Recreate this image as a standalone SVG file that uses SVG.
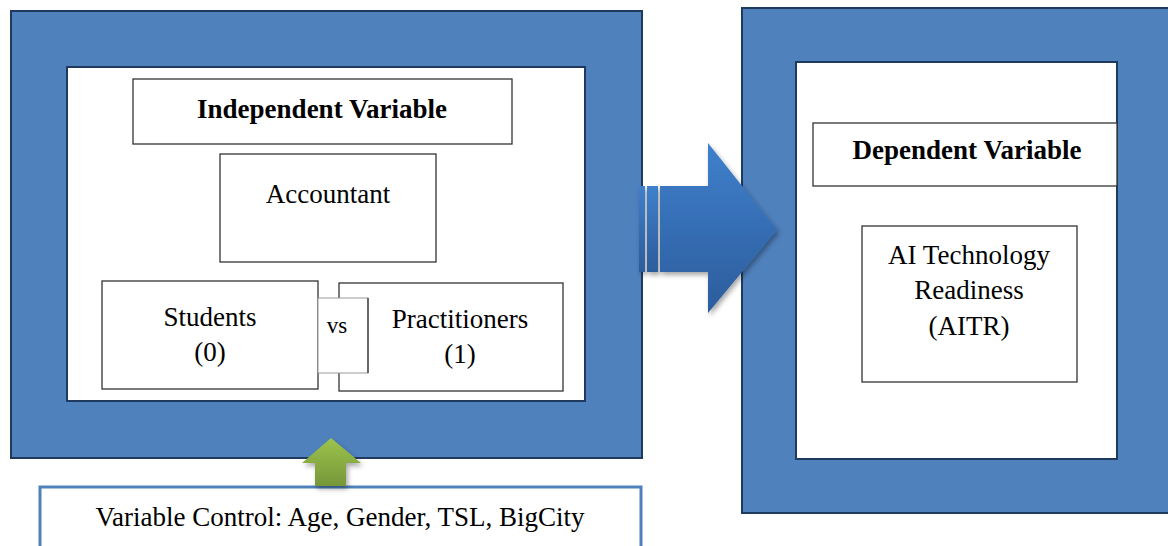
<svg xmlns="http://www.w3.org/2000/svg" width="1168" height="546" viewBox="0 0 1168 546">
<defs>
<linearGradient id="blueArrow" x1="0" y1="0" x2="0" y2="1">
<stop offset="0" stop-color="#3F80CC"/>
<stop offset="1" stop-color="#2C5C9C"/>
</linearGradient>
<linearGradient id="greenArrow" x1="0" y1="0" x2="0" y2="1">
<stop offset="0" stop-color="#9DC34B"/>
<stop offset="1" stop-color="#77973A"/>
</linearGradient>
<filter id="shadow" x="-20%" y="-20%" width="140%" height="140%">
<feDropShadow dx="2" dy="3" stdDeviation="2.5" flood-color="#000" flood-opacity="0.35"/>
</filter>
</defs>
<style>
.frame{fill:#4F81BD;stroke:#1F3A5F;stroke-width:2}
.inner{fill:#fff;stroke:#1F3A5F;stroke-width:2}
.box{fill:#fff;stroke:#333;stroke-width:1.3}
.t{font-family:"Liberation Serif","Times New Roman",serif;font-size:27px;fill:#000;text-anchor:middle}
.b{font-weight:bold}
</style>
<rect width="1168" height="546" fill="#fff"/>
<g id="left-frame">
<rect class="frame" x="11" y="11" width="631" height="447"/>
<rect class="inner" x="67" y="67" width="518" height="334"/>
</g>
<g id="right-frame">
<rect class="frame" x="742" y="8" width="430" height="505"/>
<rect class="inner" x="796" y="62" width="321" height="397"/>
</g>
<g id="independent">
<rect class="box" x="133" y="79" width="379" height="65"/>
<text class="t b" x="322" y="118">Independent Variable</text>
</g>
<g id="accountant">
<rect class="box" x="220" y="154" width="216" height="108"/>
<text class="t" x="328" y="203">Accountant</text>
</g>
<g id="students">
<rect class="box" x="102" y="281" width="216" height="108"/>
<text class="t" x="210" y="326">Students</text>
<text class="t" x="210" y="361">(0)</text>
</g>
<g id="practitioners">
<rect class="box" x="339" y="283" width="224" height="108"/>
<text class="t" x="460" y="328">Practitioners</text>
<text class="t" x="460" y="363">(1)</text>
</g>
<g id="vs">
<rect x="318" y="298" width="50" height="75" fill="#fff" stroke="#999" stroke-width="1"/>
<path d="M368 298 V373" stroke="#333" stroke-width="1.3"/>
<text class="t" x="337" y="333" style="font-size:23px">vs</text>
</g>
<g id="dependent">
<rect class="box" x="813" y="123" width="304" height="63"/>
<text class="t b" x="967" y="159">Dependent Variable</text>
</g>
<g id="aitr">
<rect class="box" x="862" y="226" width="215" height="156"/>
<text class="t" x="969" y="264">AI Technology</text>
<text class="t" x="969" y="299">Readiness</text>
<text class="t" x="969" y="335">(AITR)</text>
</g>
<g id="control">
<path d="M40 546 V487 H641 V546" fill="#fff" stroke="#4F81BD" stroke-width="3"/>
<text class="t" x="340" y="526">Variable Control: Age, Gender, TSL, BigCity</text>
</g>
<g id="connectors">
<g filter="url(#shadow)">
<path d="M660 186 H708 V143 L777 230 L708 313 V272 H660 Z" fill="url(#blueArrow)"/>
<rect x="647" y="186" width="11" height="86" fill="url(#blueArrow)"/>
<rect x="639" y="186" width="6" height="86" fill="url(#blueArrow)"/>
</g>
<path filter="url(#shadow)" d="M331 438 L361 463 H346 V486 H315 V463 H302 Z" fill="url(#greenArrow)"/>
</g>
</svg>
